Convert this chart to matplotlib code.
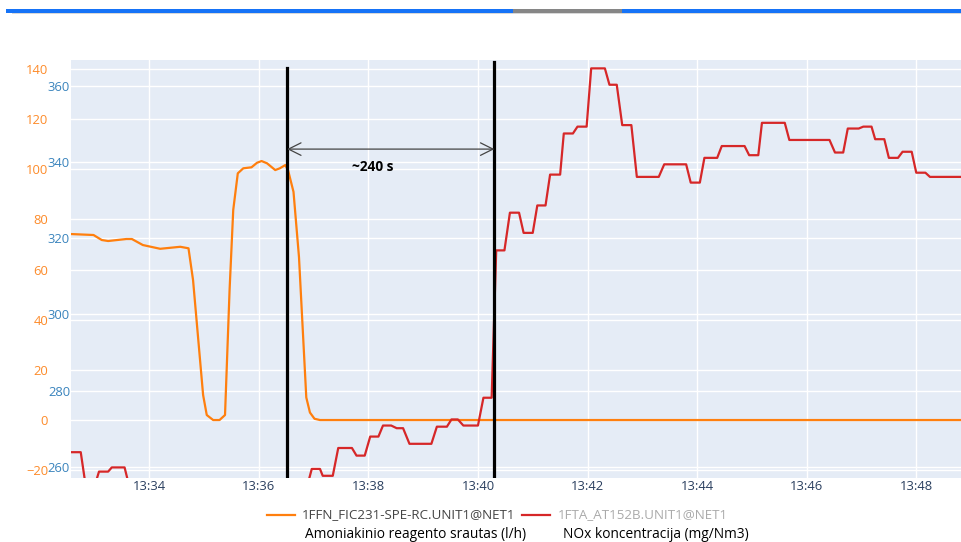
import numpy as np
import pandas as pd
import matplotlib
matplotlib.use("Agg")
import matplotlib.pyplot as plt
import matplotlib.dates as mdates
import matplotlib.transforms as mtransforms
from matplotlib.lines import Line2D
from matplotlib.patches import Rectangle

plt.rcParams['font.family'] = ['Open Sans', 'DejaVu Sans']

W_PX, H_PX = 961, 542

# 1FFN_FIC231 - ammonia reagent flow (l/h), left orange scale
flow_time = ["13:32:33", "13:32:59", "13:33:08", "13:33:15", "13:33:35", "13:33:41",
             "13:33:53", "13:34:12", "13:34:34", "13:34:43", "13:34:48", "13:34:59",
             "13:35:03", "13:35:10", "13:35:17", "13:35:23", "13:35:28", "13:35:32",
             "13:35:37", "13:35:43", "13:35:52", "13:35:58", "13:36:03", "13:36:09",
             "13:36:18", "13:36:23", "13:36:29", "13:36:32", "13:36:38", "13:36:44",
             "13:36:52", "13:36:56", "13:37:01", "13:37:07", "13:48:49"]
flow_val = [74.2, 73.8, 71.8, 71.4, 72.2, 72.2,
            69.8, 68.3, 69.1, 68.5, 55.8, 10.0,
            2.0, 0.0, 0.0, 2.0, 51.9, 83.8,
            98.4, 100.4, 100.8, 102.6, 103.3, 102.4,
            99.7, 100.4, 101.7, 99.7, 91.0, 65.0,
            9.0, 3.0, 0.5, 0.0, 0.0]

# 1FTA_AT152B - NOx concentration (mg/Nm3), blue scale
nox_time = ["13:32:33", "13:32:45", "13:32:51", "13:32:59", "13:33:05", "13:33:15",
            "13:33:19", "13:33:33", "13:33:39", "13:36:52", "13:36:58", "13:37:07",
            "13:37:10", "13:37:21", "13:37:27", "13:37:42", "13:37:47", "13:37:56",
            "13:38:02", "13:38:11", "13:38:16", "13:38:25", "13:38:31", "13:38:38",
            "13:38:45", "13:39:09", "13:39:15", "13:39:26", "13:39:31", "13:39:38",
            "13:39:44", "13:40:00", "13:40:06", "13:40:15", "13:40:20", "13:40:29",
            "13:40:35", "13:40:45", "13:40:50", "13:41:00", "13:41:05", "13:41:14",
            "13:41:19", "13:41:30", "13:41:34", "13:41:44", "13:41:49", "13:41:59",
            "13:42:04", "13:42:19", "13:42:24", "13:42:32", "13:42:38", "13:42:48",
            "13:42:54", "13:43:18", "13:43:24", "13:43:48", "13:43:53", "13:44:03",
            "13:44:08", "13:44:22", "13:44:27", "13:44:52", "13:44:57", "13:45:07",
            "13:45:11", "13:45:36", "13:45:41", "13:46:25", "13:46:31", "13:46:40",
            "13:46:45", "13:46:57", "13:47:02", "13:47:11", "13:47:15", "13:47:25",
            "13:47:30", "13:47:40", "13:47:45", "13:47:55", "13:48:00", "13:48:10",
            "13:48:15", "13:48:49"]
nox_val = [263.8, 263.8, 254.0, 254.0, 258.7, 258.7,
           259.8, 259.8, 254.0, 254.0, 259.4, 259.4,
           257.6, 257.6, 264.9, 264.9, 262.9, 262.9,
           267.9, 267.9, 270.8, 270.8, 270.1, 270.1,
           266.0, 266.0, 270.5, 270.5, 272.4, 272.4,
           270.8, 270.8, 278.1, 278.1, 316.8, 316.8,
           326.7, 326.7, 321.4, 321.4, 328.6, 328.6,
           336.7, 336.7, 347.5, 347.5, 349.3, 349.3,
           364.6, 364.6, 360.3, 360.3, 349.7, 349.7,
           336.1, 336.1, 339.4, 339.4, 334.6, 334.6,
           341.1, 341.1, 344.2, 344.2, 341.8, 341.8,
           350.3, 350.3, 345.8, 345.8, 342.5, 342.5,
           348.8, 348.8, 349.3, 349.3, 346.0, 346.0,
           341.1, 341.1, 342.7, 342.7, 337.2, 337.2,
           336.1, 336.1]

flow_ticks = [-20, 0, 20, 40, 60, 80, 100, 120, 140]
nox_ticks = [260, 280, 300, 320, 340, 360]

marker_times = ["13:36:31", "13:40:18"]
delay_label = "~240 s"

flow_name = "1FFN_FIC231-SPE-RC.UNIT1@NET1"
nox_name = "1FTA_AT152B.UNIT1@NET1"
flow_desc = "Amoniakinio reagento srautas (l/h)"
nox_desc = "NOx koncentracija (mg/Nm3)"

ORANGE = "#ff7f0e"
RED = "#d62728"
BG = "#e5ecf6"
TICK_FS = 9.4


def t(vals):
    return pd.to_datetime(vals, format="%H:%M:%S")


fig = plt.figure(figsize=(W_PX / 100, H_PX / 100), dpi=100)
px = mtransforms.Affine2D().scale(1 / W_PX, -1 / H_PX).translate(0, 1) + fig.transFigure

left, right, top, bottom = 70.7, 961, 60, 477.7
ax = fig.add_axes([left / W_PX, 1 - bottom / H_PX, (right - left) / W_PX, (bottom - top) / H_PX])
ax.set_facecolor(BG)
ax2 = ax.twinx()

ax.set_xlim(t(["13:32:34", "13:48:49"]))
ax.set_ylim(-23.0, 143.6)
ax2.set_ylim(257.1, 366.8)

for a in (ax, ax2):
    for s in a.spines.values():
        s.set_visible(False)
    a.grid(True, color="white", lw=1.0)
    a.set_axisbelow(True)

ax.xaxis.set_major_locator(mdates.MinuteLocator(byminute=range(0, 60, 2)))
ax.xaxis.set_major_formatter(mdates.DateFormatter("%H:%M"))
ax.tick_params(axis="x", length=0, pad=1.5, labelsize=TICK_FS, labelcolor="#2a3f5f")
ax2.tick_params(axis="x", length=0)

ax.set_yticks(flow_ticks)
ax.tick_params(axis="y", length=0, pad=16.3, labelsize=TICK_FS, labelcolor="#fd8b2a")
ax2.set_yticks(nox_ticks)
ax2.yaxis.tick_left()
ax2.tick_params(axis="y", length=0, pad=0.5, labelsize=TICK_FS, labelcolor="#3a84bd")
ax2.grid(False, axis="x")

# both traces on the top axes so the grids stay underneath
ax2.plot(t(flow_time), flow_val, color=ORANGE, lw=1.6, transform=ax.transData,
         solid_joinstyle="round")
ax2.plot(t(nox_time), nox_val, color=RED, lw=1.6, solid_joinstyle="round")

mt = t(marker_times)
ax2.axvline(mt[0], ymax=0.981, color="black", lw=2.3)
ax2.axvline(mt[1], ymax=0.995, color="black", lw=2.3)
ax2.annotate("", xy=(mt[1], 343.4), xytext=(mt[0], 343.4),
             arrowprops=dict(arrowstyle="<->,head_length=0.9,head_width=0.45",
                             color="#444444", lw=0.9, shrinkA=0, shrinkB=0))
ax2.text(mt[0] + (mt[1] - mt[0]) * 0.415, 338.7, delay_label, ha="center", va="center",
         fontsize=9.8, fontweight="bold", color="black")

# top bar
fig.add_artist(Rectangle((12, 13), 949, 1.2, transform=px, color="#d8d8d8", lw=0))
fig.add_artist(Rectangle((6, 9), 955, 4, transform=px, color="#1673f7", lw=0))
fig.add_artist(Rectangle((513, 9), 109, 4, transform=px, color="#868686", lw=0))

# legend
fig.add_artist(Line2D([267, 295], [515, 515], transform=px, color=ORANGE, lw=1.6))
fig.add_artist(Line2D([522, 550], [515, 515], transform=px, color=RED, lw=1.6))
fig.text(302, 515, flow_name, transform=px, va="center", ha="left", fontsize=9.6, color="#444444")
fig.text(558, 515, nox_name, transform=px, va="center", ha="left", fontsize=9.6, color="#aaaaaa")
fig.text(305, 534, flow_desc, transform=px, va="center", ha="left", fontsize=9.9, color="black")
fig.text(563, 534, nox_desc, transform=px, va="center", ha="left", fontsize=9.9, color="black")

fig.savefig("out.png", dpi=100)
